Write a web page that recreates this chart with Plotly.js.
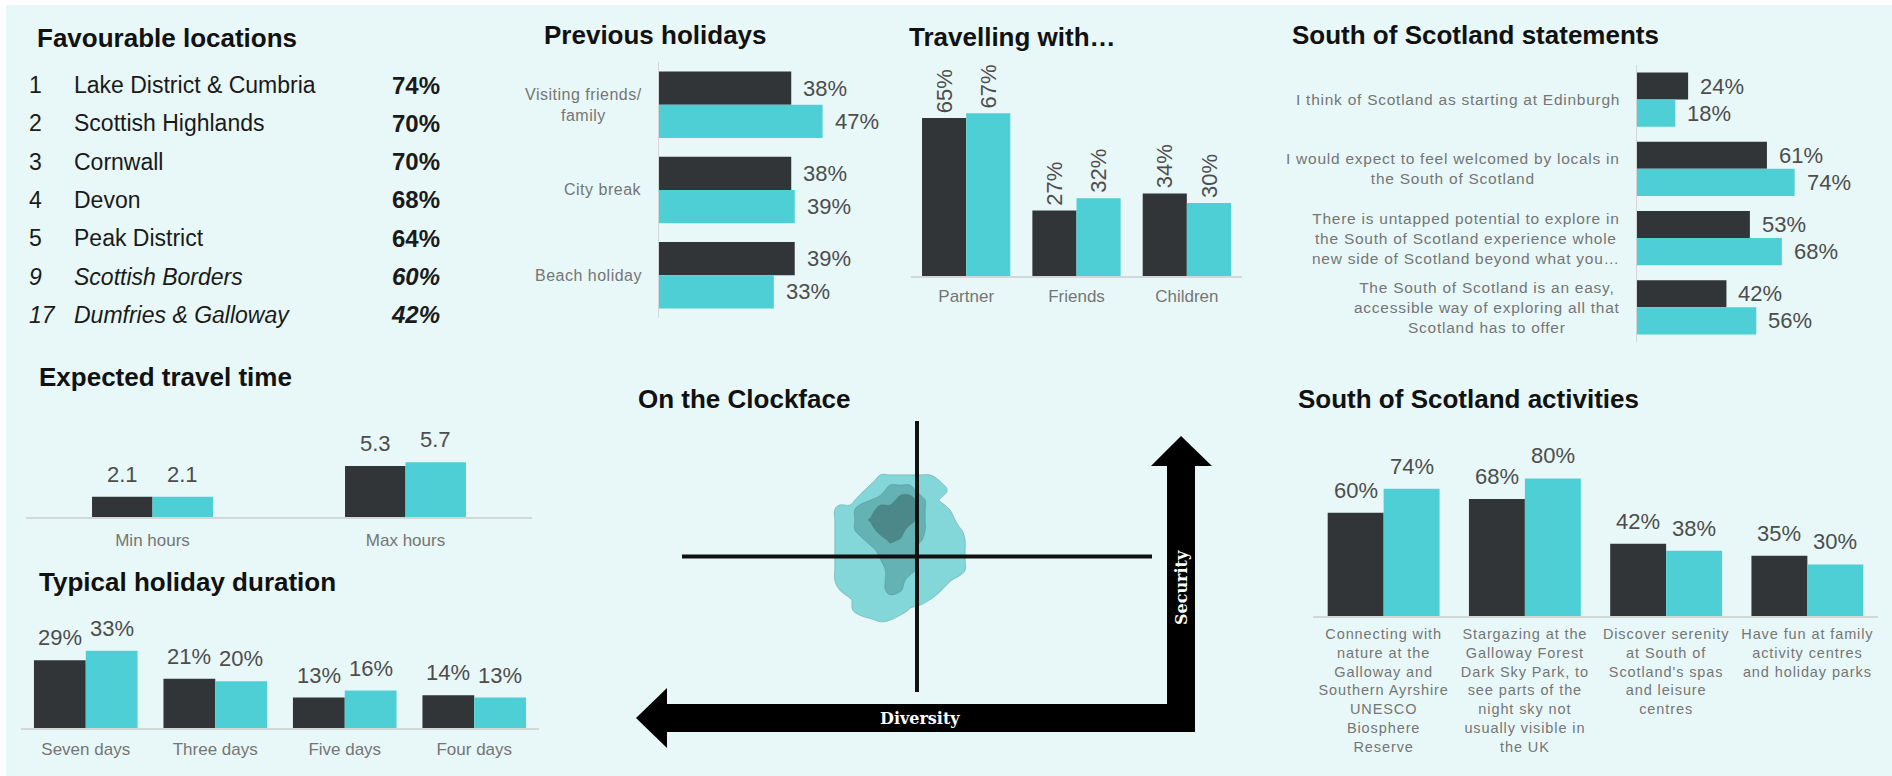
<!DOCTYPE html>
<html><head><meta charset="utf-8">
<script src="https://cdn.plot.ly/plotly-3.0.1.min.js"></script>
<style>html,body{margin:0;padding:0;background:#fff;overflow:hidden}#chart{width:1892px;height:776px}</style>
</head><body><div id="chart"></div>
<script>
// ---------------- DATA ----------------
const favRank = ['1','2','3','4','5','9','17'];
const favName = ['Lake District & Cumbria','Scottish Highlands','Cornwall','Devon','Peak District','Scottish Borders','Dumfries & Galloway'];
const favPct = [74,70,70,68,64,60,42];

const prevCats = ['Visiting friends/<br>family','City break','Beach holiday'];
const prevDark = [38,38,39];
const prevTeal = [47,39,33];

const travCats = ['Partner','Friends','Children'];
const travDark = [65,27,34];
const travTeal = [67,32,30];

const stmtCats = [
  'I think of Scotland as starting at Edinburgh',
  'I would expect to feel welcomed by locals in<br>the South of Scotland',
  'There is untapped potential to explore in<br>the South of Scotland experience whole<br>new side of Scotland beyond what you…',
  'The South of Scotland is an easy,<br>accessible way of exploring all that<br>Scotland has to offer'
];
const stmtDark = [24,61,53,42];
const stmtTeal = [18,74,68,56];

const timeCats = ['Min hours','Max hours'];
const timeDark = [2.1,5.3];
const timeTeal = [2.1,5.7];

const durCats = ['Seven days','Three days','Five days','Four days'];
const durDark = [29,21,13,14];
const durTeal = [33,20,16,13];

const actCats = [
  'Connecting with<br>nature at the<br>Galloway and<br>Southern Ayrshire<br>UNESCO<br>Biosphere<br>Reserve',
  'Stargazing at the<br>Galloway Forest<br>Dark Sky Park, to<br>see parts of the<br>night sky not<br>usually visible in<br>the UK',
  'Discover serenity<br>at South of<br>Scotland\'s spas<br>and leisure<br>centres',
  'Have fun at family<br>activity centres<br>and holiday parks'
];
const actDark = [60,68,42,35];
const actTeal = [74,80,38,30];

// clockface density (estimated levels)
const clockX = [-3.7,-3.3,-2.85,-2.45,-2.0,-1.55,-1.15,-0.7,-0.3,0.15,0.55,1.0,1.4,1.85,2.25];
const clockY = [-5.4,-4.7,-3.95,-3.2,-2.45,-1.75,-1.0,-0.25,0.5,1.2,1.95,2.7,3.45,4.15,4.9,5.65,6.4];
const clockZ = [
  [0,0,0,0,0,0,0,0,0,0,0,0,0,0,0],
  [0,0,0,0,0.4,0.6,0.5,0,0,0,0,0,0,0,0],
  [0,0,0.3,1,1,1,1,1,0.4,0,0,0,0,0,0],
  [0,0,0.4,1,1,1,1,1,1,1,0.5,0,0,0,0],
  [0,0.5,1,1,1,1,2,1.6,1,1,1,0.6,0,0,0],
  [0,1,1,1,1,1,2,2,1,1,1,1,0.6,0,0],
  [0,1,1,1,1,1,2,2,2,1,1,1,1,1,0],
  [0,1,1,1,1,1.5,2,2,2,1,1,1,1,1,0],
  [0,1,1,1,1,2,2,2,2,1,1,1,1,1,0],
  [0,1,1,1,2,2,2.7,2.4,2,1.6,1,1,1,1,0],
  [0,1,1,2,2,3,3,3,2,2,1,1,1,0.6,0],
  [0,1,1,2,2.6,3,3,3,3,2,1,1,1,0,0],
  [0,1,1,2,2,3,3,3,3,2,1,1,0.5,0,0],
  [0,0,0,1,1.5,2,2,3,3,2,1,0.4,0,0,0],
  [0,0,0,0,1,1,2,2,2,1,1,1,0.3,0,0],
  [0,0,0,0,0,1,1,1,1,1,1,0.4,0,0,0],
  [0,0,0,0,0,0,0,0,0,0,0,0,0,0,0]
];

// ---------------- STYLE / LAYOUT ----------------
const W = 1892, H = 776;
const DARK = '#323538', TEAL = '#4ECFD5', BG = '#E8F8F8', AXIS = '#d2d8d8';
const FONT = 'Liberation Sans, Arial, sans-serif';
const VALFONT = {family: FONT, size: 22, color: '#4d4d4d'};
const LABCOL = '#757575';
const px = x => x / W;
const py = y => 1 - y / H;
const xdom = (a, b) => [a / W, b / W];
const ydom = (top, bottom) => [1 - bottom / H, 1 - top / H];
const spaced = (t, ls) => t.split('<br>').map(l => '<span style="letter-spacing:' + ls + 'px">' + l + '</span>').join('<br>');

function vBars(n, cats, dark, teal, w) {
  const s = n === 1 ? '' : String(n);
  return [
    {type:'bar', x:cats, y:dark, width:w, offset:-w, marker:{color:DARK}, xaxis:'x'+s, yaxis:'y'+s, hoverinfo:'skip', name:'Series A'},
    {type:'bar', x:cats, y:teal, width:w, offset:0, marker:{color:TEAL}, xaxis:'x'+s, yaxis:'y'+s, hoverinfo:'skip', name:'Series B'}
  ];
}
function hBars(n, cats, dark, teal, w) {
  const s = n === 1 ? '' : String(n);
  return [
    {type:'bar', orientation:'h', y:cats, x:dark, width:w, offset:-w, marker:{color:DARK}, xaxis:'x'+s, yaxis:'y'+s, hoverinfo:'skip', name:'Series A'},
    {type:'bar', orientation:'h', y:cats, x:teal, width:w, offset:0, marker:{color:TEAL}, xaxis:'x'+s, yaxis:'y'+s, hoverinfo:'skip', name:'Series B'}
  ];
}
function vLabels(n, dark, teal, w, fmt, extra) {
  const s = n === 1 ? '' : String(n);
  const out = [];
  [[dark, -w/2], [teal, w/2]].forEach(([vals, off]) => {
    vals.forEach((v, i) => out.push(Object.assign({
      xref:'x'+s, yref:'y'+s, x:i+off, y:v, text:fmt(v), showarrow:false,
      xanchor:'center', yanchor:'bottom', yshift:8, font:VALFONT
    }, extra || {})));
  });
  return out;
}
function hLabels(n, dark, teal, w, fmt) {
  const s = n === 1 ? '' : String(n);
  const out = [];
  [[dark, -w/2], [teal, w/2]].forEach(([vals, off]) => {
    vals.forEach((v, i) => out.push({
      xref:'x'+s, yref:'y'+s, x:v, y:i+off, text:fmt(v), showarrow:false,
      xanchor:'left', yanchor:'middle', xshift:10, font:VALFONT
    }));
  });
  return out;
}
function catLabels(n, cats, rightPx, size, ls) {
  const s = n === 1 ? '' : String(n);
  return cats.map((c, i) => ({
    xref:'paper', yref:'y'+s, x:px(rightPx), y:i, text:spaced(c, ls), showarrow:false,
    xanchor:'right', yanchor:'middle', align:'center',
    font:{family:FONT, size:size, color:LABCOL}
  }));
}
const pct = v => v + '%';

const wPrev = 0.39, wTrav = 0.4, wStmt = 0.39, wTime = 0.239, wDur = 0.4, wAct = 0.396;

const traces = [].concat(
  hBars(1, prevCats, prevDark, prevTeal, wPrev),
  vBars(2, travCats, travDark, travTeal, wTrav),
  hBars(3, stmtCats, stmtDark, stmtTeal, wStmt),
  vBars(4, timeCats, timeDark, timeTeal, wTime),
  vBars(5, durCats, durDark, durTeal, wDur),
  [{
    type:'contour', x:clockX, y:clockY, z:clockZ, xaxis:'x6', yaxis:'y6',
    showscale:false, hoverinfo:'skip', autocontour:false,
    contours:{start:0.5, end:2.5, size:1, coloring:'fill'},
    line:{smoothing:1.2, width:1, color:'rgba(70,130,130,0.35)'},
    colorscale:[[0,'rgba(0,0,0,0)'],[0.17,'rgba(0,0,0,0)'],[0.17,'#84D7D9'],[0.5,'#84D7D9'],
                [0.5,'#64B2B4'],[0.83,'#64B2B4'],[0.83,'#4C8789'],[1,'#4C8789']]
  }],
  vBars(7, actCats, actDark, actTeal, wAct)
);

const hidden = {visible:false, fixedrange:true};
const catX = (domain, anchor, cats, size, standoff, ls) => ({
  domain, anchor, type:'category', showline:true, linecolor:AXIS, linewidth:1.5,
  ticks:'', showgrid:false, zeroline:false, fixedrange:true,
  tickmode:'array', tickvals:cats, ticktext:cats.map(c => ls ? spaced(c, ls) : c),
  tickfont:{family:FONT, size:size, color:LABCOL}, ticklabelstandoff:standoff
});
const catY = (domain, anchor) => ({
  domain, anchor, type:'category', autorange:'reversed', showline:true, linecolor:AXIS, linewidth:1.5,
  ticks:'', showticklabels:false, showgrid:false, zeroline:false, fixedrange:true
});

const annotations = [];
// titles
[['Favourable locations',35,38],['Previous holidays',542,35],['Travelling with…',907,37],
 ['South of Scotland statements',1290,35],['Expected travel time',37,377],
 ['Typical holiday duration',37,582],['On the Clockface',636,399],['South of Scotland activities',1296,399]]
.forEach(([t,x,y]) => annotations.push({text:'<b>'+t+'</b>', xref:'paper', yref:'paper', x:px(x), y:py(y),
  xanchor:'left', yanchor:'middle', showarrow:false, font:{family:FONT, size:26, color:'#111'}}));

// favourable locations list
const italicFrom = 5;
favName.forEach((nm, i) => {
  const y = py(85 + i * 38.3);
  const it = i >= italicFrom;
  const wrap = t => it ? '<i>' + t + '</i>' : t;
  annotations.push({text:wrap(favRank[i]), xref:'paper', yref:'paper', x:px(27), y, xanchor:'left', yanchor:'middle',
    showarrow:false, font:{family:FONT, size:23, color:'#1a1a1a'}});
  annotations.push({text:wrap(nm), xref:'paper', yref:'paper', x:px(72), y, xanchor:'left', yanchor:'middle',
    showarrow:false, font:{family:FONT, size:23, color:'#1a1a1a'}});
  annotations.push({text:'<b>' + wrap(favPct[i] + '%') + '</b>', xref:'paper', yref:'paper', x:px(442), y, xanchor:'right', yanchor:'middle',
    showarrow:false, font:{family:FONT, size:24, color:'#1a1a1a'}});
});

annotations.push(...catLabels(1, prevCats, 644, 16, 0.5));
annotations.push(...catLabels(3, stmtCats, 1622, 15.5, 0.75));
annotations.push(...hLabels(1, prevDark, prevTeal, wPrev, pct));
annotations.push(...hLabels(3, stmtDark, stmtTeal, wStmt, pct));
annotations.push(...vLabels(2, travDark, travTeal, wTrav, pct, {textangle:-90, yshift:3}));
annotations.push(...vLabels(4, timeDark, timeTeal, wTime, v => v.toFixed(1)));
annotations.push(...vLabels(5, durDark, durTeal, wDur, pct));
annotations.push(...vLabels(7, actDark, actTeal, wAct, pct));

// clockface arrow labels
annotations.push({text:'<b>Diversity</b>', xref:'paper', yref:'paper', x:px(920), y:py(718), xanchor:'center', yanchor:'middle',
  showarrow:false, font:{family:'DejaVu Serif, serif', size:16, color:'#ffffff'}});
annotations.push({text:'<b>Security</b>', xref:'paper', yref:'paper', x:px(1181), y:py(588), xanchor:'center', yanchor:'middle',
  textangle:-90, showarrow:false, font:{family:'DejaVu Serif, serif', size:16, color:'#ffffff'}});

const arrowPts = [[636,718],[667,688],[667,704],[1167,704],[1167,466],[1151,466],[1181,436],[1212,466],
                  [1195,466],[1195,732],[667,732],[667,748]];
const arrowPath = 'M' + arrowPts.map(p => px(p[0]).toFixed(5) + ',' + py(p[1]).toFixed(5)).join('L') + 'Z';

const shapes = [
  {type:'rect', xref:'paper', yref:'paper', x0:px(6), x1:1, y0:0, y1:py(5), fillcolor:BG, line:{width:0}, layer:'below'},
  {type:'line', xref:'x6', yref:'y6', x0:0, x1:0, y0:-10, y1:10, line:{color:'#111', width:4}, layer:'above'},
  {type:'line', xref:'x6', yref:'y6', x0:-10, x1:10, y0:0, y1:0, line:{color:'#111', width:4}, layer:'above'},
  {type:'path', xref:'paper', yref:'paper', path:arrowPath, fillcolor:'#000', line:{width:0}, layer:'above'}
];

const layout = {
  width:W, height:H, margin:{l:0, r:0, t:0, b:0}, paper_bgcolor:'#ffffff', plot_bgcolor:'rgba(0,0,0,0)',
  showlegend:false, barmode:'overlay', font:{family:FONT},
  xaxis:  Object.assign({domain:xdom(659, 659 + 3.48*60), range:[0,60], anchor:'y'}, hidden),
  yaxis:  catY(ydom(62, 318), 'x'),
  xaxis2: catX(xdom(911, 1242), 'y2', travCats, 17, 4),
  yaxis2: Object.assign({domain:ydom(276 - 2.43*70, 276), range:[0,70], anchor:'x2'}, hidden),
  xaxis3: Object.assign({domain:xdom(1637, 1637 + 2.13*90), range:[0,90], anchor:'y3'}, hidden),
  yaxis3: catY(ydom(65, 342), 'x3'),
  xaxis4: catX(xdom(26, 532), 'y4', timeCats, 17, 7),
  yaxis4: Object.assign({domain:ydom(517 - 9.6*8, 517), range:[0,8], anchor:'x4'}, hidden),
  xaxis5: catX(xdom(21, 539), 'y5', durCats, 17, 5),
  yaxis5: Object.assign({domain:ydom(728 - 2.34*40, 728), range:[0,40], anchor:'x5'}, hidden),
  xaxis6: Object.assign({domain:xdom(682, 1152), range:[-10,10], anchor:'y6'}, hidden),
  yaxis6: Object.assign({domain:ydom(421, 692), range:[-10,10], anchor:'x6'}, hidden),
  xaxis7: catX(xdom(1313, 1878), 'y7', actCats, 14.5, 4, 0.9),
  yaxis7: Object.assign({domain:ydom(616 - 1.72*90, 616), range:[0,90], anchor:'x7'}, hidden),
  annotations, shapes
};

Plotly.newPlot('chart', traces, layout, {displayModeBar:false, staticPlot:true});
</script>
</body></html>
